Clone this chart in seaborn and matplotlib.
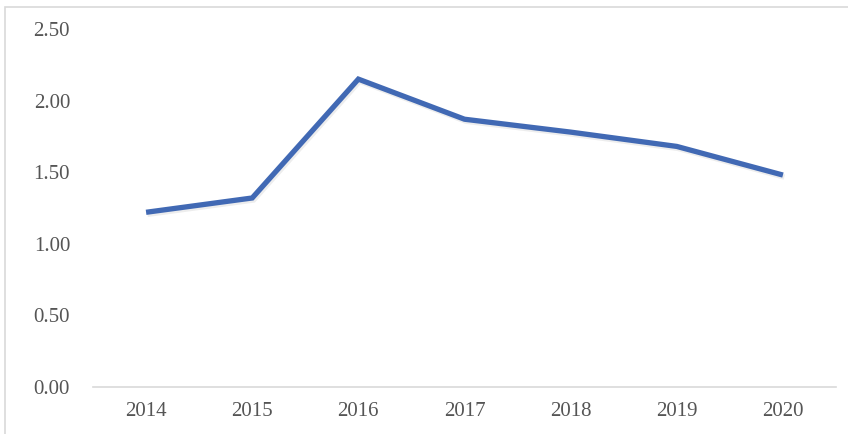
import matplotlib
matplotlib.use("Agg")
import matplotlib.pyplot as plt
import matplotlib.patheffects as pe
import pandas as pd
import seaborn as sns

# data
years = ["2014", "2015", "2016", "2017", "2018", "2019", "2020"]
values = [1.22, 1.32, 2.15, 1.87, 1.78, 1.68, 1.48]
yticks = [0.0, 0.5, 1.0, 1.5, 2.0, 2.5]

df = pd.DataFrame({"year": years, "value": values})

sns.set_style("white")
plt.rcParams["font.family"] = ["Liberation Serif", "DejaVu Serif"]

fig = plt.figure(figsize=(8.48, 4.34), dpi=100)
ax = fig.add_axes([93 / 848, 1 - 387 / 434, 743 / 848, 358 / 434])

sns.lineplot(data=df, x="year", y="value", ax=ax, sort=False,
             color="#4169B4", linewidth=3.8, solid_capstyle="butt",
             solid_joinstyle="miter",
             path_effects=[pe.SimpleLineShadow(offset=(1, -1.5), alpha=0.15,
                                               shadow_color="#888888"),
                           pe.Normal()])

ax.set_xlim(-0.5, len(years) - 0.5)
ax.set_ylim(0, 2.5)
ax.set_yticks(yticks)
ax.set_yticklabels([f"{t:.2f}" for t in yticks])
ax.set_xlabel("")
ax.set_ylabel("")

for s in ["top", "right", "left"]:
    ax.spines[s].set_visible(False)
ax.spines["bottom"].set_color("#D9D9D9")
ax.spines["bottom"].set_linewidth(1.2)
ax.tick_params(axis="both", length=0, labelsize=15, colors="#555555")
ax.tick_params(axis="y", pad=16.5)
ax.tick_params(axis="x", pad=10.5)

# light frame round the chart
fig.patches.append(plt.Rectangle((5 / 848, -0.01), 1.02, 1 - 7 / 434 + 0.01,
                                 transform=fig.transFigure, fill=False,
                                 edgecolor="#D9D9D9", linewidth=1.2))

fig.savefig("out.png", dpi=100)
